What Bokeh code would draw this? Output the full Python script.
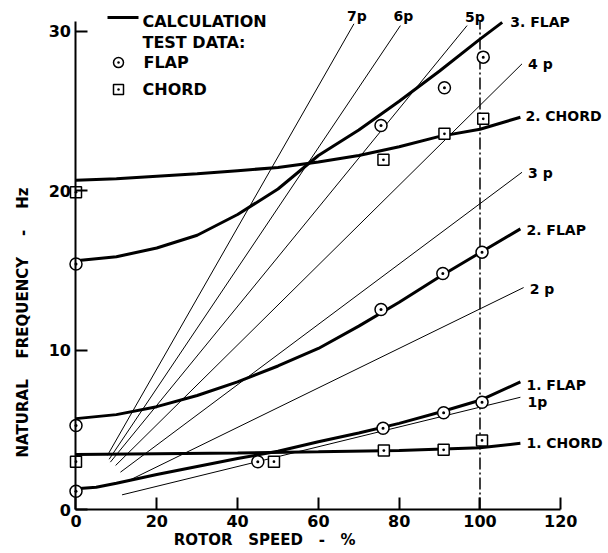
from bokeh.plotting import figure
from bokeh.models import FixedTicker, Range1d, Label
from bokeh.core.properties import value
from bokeh.embed import file_html
from bokeh.resources import INLINE

FONT = "DejaVu Sans"
NB = "\u00a0"

# ---- calculated natural frequencies (rotor speed %, Hz) ----
flap1_x = [0, 5, 10, 20, 30, 40, 50, 60, 70, 80, 90, 100, 110]
flap1_y = [1.3, 1.4, 1.65, 2.2, 2.7, 3.2, 3.65, 4.25, 4.8, 5.4, 6.1, 6.85, 8.0]
chord1_x = [0, 20, 40, 60, 80, 100, 110]
chord1_y = [3.45, 3.5, 3.55, 3.62, 3.7, 3.87, 4.15]
flap2_x = [0, 10, 20, 30, 40, 50, 60, 70, 80, 90, 100, 110]
flap2_y = [5.7, 5.95, 6.45, 7.15, 8.0, 9.0, 10.1, 11.5, 13.0, 14.6, 16.1, 17.6]
chord2_x = [0, 10, 20, 30, 40, 50, 60, 70, 80, 90, 100, 110]
chord2_y = [20.65, 20.75, 20.9, 21.05, 21.25, 21.45, 21.8, 22.2, 22.75, 23.4, 23.85, 24.6]
flap3_x = [0, 10, 20, 30, 40, 50, 60, 70, 80, 90, 100, 105.5]
flap3_y = [15.6, 15.85, 16.4, 17.2, 18.5, 20.1, 22.2, 23.8, 25.6, 27.5, 29.5, 30.55]

curve_names = ["1. FLAP", "1. CHORD", "2. FLAP", "2. CHORD", "3. FLAP"]
curves_x = [flap1_x, chord1_x, flap2_x, chord2_x, flap3_x]
curves_y = [flap1_y, chord1_y, flap2_y, chord2_y, flap3_y]

# ---- per-rev excitation lines (start / end points) ----
perrev_names = ["1p", "2 p", "3 p", "4 p", "5p", "6p", "7p"]
perrev_x0 = [11.4, 13.1, 11.0, 9.8, 8.5, 8.2, 7.8]
perrev_y0 = [0.92, 1.82, 2.34, 2.76, 2.97, 3.15, 3.4]
perrev_x1 = [110.0, 110.8, 110.4, 110.4, 96.8, 80.3, 68.8]
perrev_y1 = [7.04, 13.92, 21.15, 27.95, 30.35, 30.35, 30.46]

# ---- test data ----
flap_test_x = [0, 0, 0, 45, 76, 91, 100.5, 75.5, 90.8, 100.5, 75.5, 91.2, 100.8]
flap_test_y = [1.15, 5.27, 15.4, 3.0, 5.1, 6.07, 6.73, 12.54, 14.8, 16.14, 24.08, 26.45, 28.37]
chord_test_x = [0, 0, 49, 76.2, 91, 100.5, 76.1, 91.2, 100.8]
chord_test_y = [3.0, 19.9, 3.0, 3.7, 3.74, 4.33, 21.93, 23.56, 24.5]

nominal_speed = 100
nominal_top = 30.6

x_ticks = [0, 20, 40, 60, 80, 100, 120]
y_ticks = [0, 10, 20, 30]

# ---- figure: frame covers the whole canvas, axes drawn at fixed locations ----
p = figure(width=608, height=553, output_backend="svg", toolbar_location=None,
           x_range=Range1d(-18.688, 131.807), y_range=Range1d(-2.759, 31.922),
           min_border_left=0, min_border_right=0, min_border_top=0, min_border_bottom=0)
p.outline_line_color = None
p.xgrid.visible = False
p.ygrid.visible = False
p.background_fill_color = "white"
p.border_fill_color = "white"

for ax, ticks, bnds in ((p.xaxis, x_ticks, (0, 120)), (p.yaxis, y_ticks, (0, 30.6))):
    ax.ticker = FixedTicker(ticks=ticks)
    ax.bounds = bnds
    ax.fixed_location = 0
    ax.axis_line_width = 2
    ax.axis_line_color = "black"
    ax.major_tick_in = 12
    ax.major_tick_out = 0
    ax.major_tick_line_width = 2
    ax.major_tick_line_color = "black"
    ax.minor_tick_line_color = None
    ax.major_label_text_font = FONT
    ax.major_label_text_font_style = "bold"
    ax.major_label_text_font_size = "16px"
    ax.major_label_text_color = "black"
    ax.major_label_standoff = 5

# per-rev lines
p.segment(x0=perrev_x0, y0=perrev_y0, x1=perrev_x1, y1=perrev_y1,
          line_color="black", line_width=1)

# nominal speed dash-dot line
p.segment(x0=[nominal_speed], y0=[0], x1=[nominal_speed], y1=[nominal_top],
          line_color="black", line_width=1.5, line_dash="12 3 2 3")

# calculated curves
p.multi_line(xs=curves_x, ys=curves_y, line_color="black", line_width=3)

# test data markers
p.scatter(flap_test_x, flap_test_y, marker="circle_dot", size=12,
          fill_color="white", line_color="black", line_width=1.5)
p.scatter(chord_test_x, chord_test_y, marker="square_dot", size=11,
          fill_color="white", line_color="black", line_width=1.5)

# curve labels at curve ends
curve_end_x = [cx[-1] for cx in curves_x]
curve_end_y = [cy[-1] for cy in curves_y]
curve_dx = [6, 6, 6, 5, 8]
curve_dy = [3, 0, 1, -1, 0]
p.text(x=curve_end_x, y=curve_end_y, text=curve_names, x_offset=curve_dx, y_offset=curve_dy,
       text_font=value(FONT), text_font_style="bold", text_font_size="14px",
       text_baseline="middle", text_align="left", text_color="black")

# per-rev labels
pr_dx = [7, 6, 6, 6, -2, -7, -7]
pr_dy = [5, 1, 1, 0, -9, -10, -8]
p.text(x=perrev_x1, y=perrev_y1, text=perrev_names, x_offset=pr_dx, y_offset=pr_dy,
       text_font=value(FONT), text_font_style="bold", text_font_size="14px",
       text_baseline="middle", text_align="left", text_color="black")

# legend (drawn manually to match layout)
p.line(x=[7.8, 15.47], y=[30.86, 30.86], line_color="black", line_width=3)
p.scatter([10.52], [28.03], marker="circle_dot", size=10, fill_color="white",
          line_color="black", line_width=1.5)
p.scatter([10.52], [26.34], marker="square_dot", size=10, fill_color="white",
          line_color="black", line_width=1.5)
p.text(x=[16.46, 16.46, 16.7, 16.46], y=[30.6, 29.29, 28.03, 26.34],
       text=["CALCULATION", "TEST DATA:", "FLAP", "CHORD"],
       text_font=value(FONT), text_font_style="bold", text_font_size="16px",
       text_baseline="middle", text_align="left", text_color="black")

# axis titles
x_title = NB.join(["ROTOR", "", "", "SPEED", "", "", "-", "", "", "%"])
y_title = NB.join(["NATURAL", "", "", "", "FREQUENCY", "", "", "", "-", "", "", "", "Hz"])
p.add_layout(Label(x=46.7, y=-1.94, text=x_title, text_font=FONT,
                   text_font_style="bold", text_font_size="15px", text_color="black",
                   text_align="center", text_baseline="middle"))
p.add_layout(Label(x=-13.24, y=11.73, text=y_title, text_font=FONT,
                   text_font_style="bold", text_font_size="15px", text_color="black",
                   angle=90, angle_units="deg",
                   text_align="center", text_baseline="middle"))

open("out.html", "w").write(file_html(p, INLINE))
